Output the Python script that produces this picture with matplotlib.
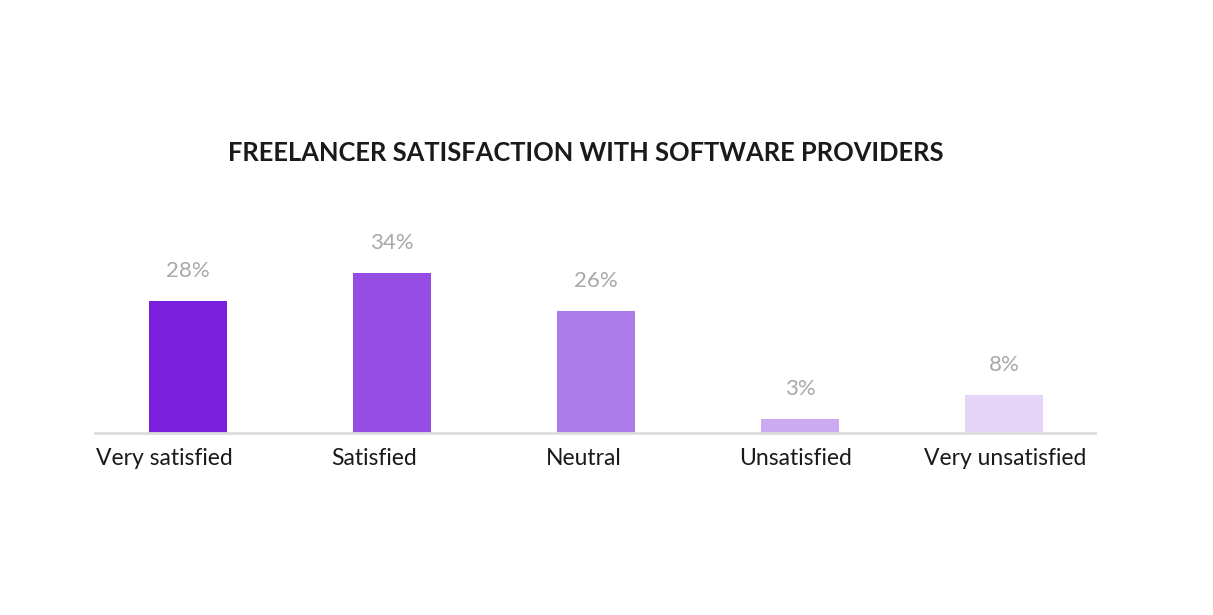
import matplotlib.pyplot as plt

categories = ['Very satisfied', 'Satisfied', 'Neutral', 'Unsatisfied', 'Very unsatisfied']
values = [28, 34, 26, 3, 8]
value_labels = ['28%', '34%', '26%', '3%', '8%']
bar_colors = ['#7a1fdc', '#944ce2', '#ab7ce9', '#cbaaf1', '#e3d4f8']
# category labels in the original sit slightly left of their bars
label_shift = [-0.118, -0.088, -0.059, -0.022, 0.005]

plt.rcParams['font.family'] = ['Lato', 'DejaVu Sans']

fig = plt.figure(figsize=(12.13, 6.15), dpi=100)
ax = fig.add_axes([95 / 1213, 182 / 615, 1000 / 1213, 233 / 615])

x = list(range(len(categories)))
ax.bar(x, values, width=0.38, color=bar_colors, zorder=2)
for xi, v, lab in zip(x, values, value_labels):
    ax.text(xi, v + 4.3, lab, ha='center', va='bottom', fontsize=16, color='#a8a8a8')

ax.set_xlim(-0.456, 4.446)
ax.set_ylim(0, 49.6)
ax.set_xticks([xi + s for xi, s in zip(x, label_shift)])
ax.set_xticklabels(categories, fontsize=16.5, color='#1a1a1a')
ax.tick_params(axis='x', length=0, pad=11)
ax.set_yticks([])
for s in ['top', 'right', 'left']:
    ax.spines[s].set_visible(False)
ax.spines['bottom'].set_color('#dddddd')
ax.spines['bottom'].set_linewidth(2)

fig.text(585.5 / 1213, 1 - 153 / 615, 'FREELANCER SATISFACTION WITH SOFTWARE PROVIDERS',
         ha='center', va='center', fontsize=18.4, fontweight='bold', color='#1a1a1a')

fig.savefig('out.png', dpi=100, facecolor='white')
